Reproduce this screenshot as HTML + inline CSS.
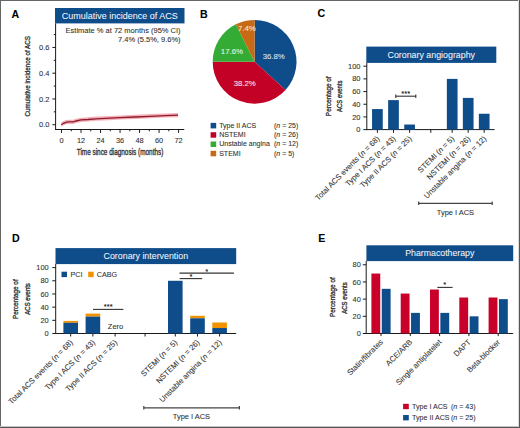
<!DOCTYPE html>
<html><head><meta charset="utf-8"><style>
html,body{margin:0;padding:0;background:#fff;}
svg{display:block;}
text{font-family:"Liberation Sans", sans-serif;}

</style></head><body>
<svg width="520" height="428" viewBox="0 0 520 428">
<rect x="0" y="0" width="520" height="428" fill="#fff"/>
<text x="11.4" y="17.6" font-size="10.6" text-anchor="start" fill="#000" font-weight="bold" stroke="#000" stroke-width="0.08" >A</text>
<rect x="55.00" y="8.00" width="129.50" height="15.40" fill="#0f4c8a"/>
<text x="119.75" y="18.7" font-size="9" text-anchor="middle" fill="#f2f7fc" stroke="#f2f7fc" stroke-width="0.05" >Cumulative incidence of ACS</text>
<text x="180.6" y="32.6" font-size="7.5" text-anchor="end" fill="#303030" stroke="#303030" stroke-width="0.08" >Estimate % at 72 months (95% CI)</text>
<text x="180.6" y="42.1" font-size="7.5" text-anchor="end" fill="#303030" stroke="#303030" stroke-width="0.08" >7.4% (5.5%, 9.6%)</text>
<line x1="55.6" y1="23.4" x2="55.6" y2="130.0" stroke="#1a1a1a" stroke-width="1"/>
<line x1="55.1" y1="129.5" x2="184.3" y2="129.5" stroke="#1a1a1a" stroke-width="1"/>
<line x1="52.4" y1="124.7" x2="55.6" y2="124.7" stroke="#1a1a1a" stroke-width="1"/>
<text x="49.5" y="127.4" font-size="7.5" text-anchor="end" fill="#303030" stroke="#303030" stroke-width="0.08" >0.0</text>
<line x1="53.8" y1="111.825" x2="55.6" y2="111.825" stroke="#1a1a1a" stroke-width="1"/>
<line x1="52.4" y1="98.95" x2="55.6" y2="98.95" stroke="#1a1a1a" stroke-width="1"/>
<text x="49.5" y="101.65" font-size="7.5" text-anchor="end" fill="#303030" stroke="#303030" stroke-width="0.08" >0.2</text>
<line x1="53.8" y1="86.07499999999999" x2="55.6" y2="86.07499999999999" stroke="#1a1a1a" stroke-width="1"/>
<line x1="52.4" y1="73.2" x2="55.6" y2="73.2" stroke="#1a1a1a" stroke-width="1"/>
<text x="49.5" y="75.9" font-size="7.5" text-anchor="end" fill="#303030" stroke="#303030" stroke-width="0.08" >0.4</text>
<line x1="53.8" y1="60.325" x2="55.6" y2="60.325" stroke="#1a1a1a" stroke-width="1"/>
<line x1="52.4" y1="47.44999999999999" x2="55.6" y2="47.44999999999999" stroke="#1a1a1a" stroke-width="1"/>
<text x="49.5" y="50.14999999999999" font-size="7.5" text-anchor="end" fill="#303030" stroke="#303030" stroke-width="0.08" >0.6</text>
<line x1="53.8" y1="34.57499999999999" x2="55.6" y2="34.57499999999999" stroke="#1a1a1a" stroke-width="1"/>
<line x1="61.5" y1="129.5" x2="61.5" y2="132.9" stroke="#1a1a1a" stroke-width="1"/>
<text x="61.5" y="142.5" font-size="7.4" text-anchor="middle" fill="#303030" stroke="#303030" stroke-width="0.08" >0</text>
<line x1="71.25833333333333" y1="129.5" x2="71.25833333333333" y2="131.3" stroke="#1a1a1a" stroke-width="1"/>
<line x1="81.01666666666667" y1="129.5" x2="81.01666666666667" y2="132.9" stroke="#1a1a1a" stroke-width="1"/>
<text x="81.01666666666667" y="142.5" font-size="7.4" text-anchor="middle" fill="#303030" stroke="#303030" stroke-width="0.08" >12</text>
<line x1="90.775" y1="129.5" x2="90.775" y2="131.3" stroke="#1a1a1a" stroke-width="1"/>
<line x1="100.53333333333333" y1="129.5" x2="100.53333333333333" y2="132.9" stroke="#1a1a1a" stroke-width="1"/>
<text x="100.53333333333333" y="142.5" font-size="7.4" text-anchor="middle" fill="#303030" stroke="#303030" stroke-width="0.08" >24</text>
<line x1="110.29166666666666" y1="129.5" x2="110.29166666666666" y2="131.3" stroke="#1a1a1a" stroke-width="1"/>
<line x1="120.05" y1="129.5" x2="120.05" y2="132.9" stroke="#1a1a1a" stroke-width="1"/>
<text x="120.05" y="142.5" font-size="7.4" text-anchor="middle" fill="#303030" stroke="#303030" stroke-width="0.08" >36</text>
<line x1="129.80833333333334" y1="129.5" x2="129.80833333333334" y2="131.3" stroke="#1a1a1a" stroke-width="1"/>
<line x1="139.56666666666666" y1="129.5" x2="139.56666666666666" y2="132.9" stroke="#1a1a1a" stroke-width="1"/>
<text x="139.56666666666666" y="142.5" font-size="7.4" text-anchor="middle" fill="#303030" stroke="#303030" stroke-width="0.08" >48</text>
<line x1="149.325" y1="129.5" x2="149.325" y2="131.3" stroke="#1a1a1a" stroke-width="1"/>
<line x1="159.08333333333331" y1="129.5" x2="159.08333333333331" y2="132.9" stroke="#1a1a1a" stroke-width="1"/>
<text x="159.08333333333331" y="142.5" font-size="7.4" text-anchor="middle" fill="#303030" stroke="#303030" stroke-width="0.08" >60</text>
<line x1="168.84166666666667" y1="129.5" x2="168.84166666666667" y2="131.3" stroke="#1a1a1a" stroke-width="1"/>
<line x1="178.6" y1="129.5" x2="178.6" y2="132.9" stroke="#1a1a1a" stroke-width="1"/>
<text x="178.6" y="142.5" font-size="7.4" text-anchor="middle" fill="#303030" stroke="#303030" stroke-width="0.08" >72</text>
<text transform="translate(120,154.9) scale(0.745,1)" x="0" y="0" font-size="8.6" text-anchor="middle" fill="#303030" stroke="#303030" stroke-width="0.32">Time since diagnosis (months)</text>
<text transform="translate(29.8,76.3) rotate(-90) scale(0.8,1)" x="0" y="0" font-size="7.8" text-anchor="middle" fill="#303030" stroke="#303030" stroke-width="0.32">Cumulative incidence of ACS</text>
<polygon points="61.3,122.6 63.5,121.1 66,120.1 68,119.7 73.5,119.7 76,118.8 81,117.7 88,117.3 96,116.6 110,116.0 120,115.39999999999999 135,114.8 150,114.1 165,113.39999999999999 178,113.0 178,117.2 165,117.6 150,118.3 135,119.0 120,119.6 110,120.2 96,120.8 88,121.5 81,121.9 76,123.0 73.5,123.9 68,123.9 66,124.3 63.5,125.3 61.3,126.8" fill="#f3a3ac" opacity="0.85"/>
<polyline points="61.3,124.8 63.5,123.3 66,122.3 68,121.9 73.5,121.9 76,121.0 81,119.9 88,119.5 96,118.8 110,118.2 120,117.6 135,117.0 150,116.3 165,115.6 178,115.2" fill="none" stroke="#8e1a2e" stroke-width="1.3"/>
<text x="199.9" y="17.8" font-size="10.6" text-anchor="start" fill="#000" font-weight="bold" stroke="#000" stroke-width="0.08" >B</text>
<path d="M254.6,61.8 L254.60,19.90 A41.9,41.9 0 0 1 285.50,90.10 Z" fill="#0f4c8a"/>
<path d="M254.6,61.8 L285.50,90.10 A41.9,41.9 0 0 1 212.70,61.80 Z" fill="#c30026"/>
<path d="M254.6,61.8 L212.70,61.80 A41.9,41.9 0 0 1 235.81,24.35 Z" fill="#34ab34"/>
<path d="M254.6,61.8 L235.81,24.35 A41.9,41.9 0 0 1 254.60,19.90 Z" fill="#c76a14"/>
<text x="273.7" y="59.0" font-size="7.8" text-anchor="middle" fill="#dbe7f5" stroke="#dbe7f5" stroke-width="0.08" >36.8%</text>
<text x="244.7" y="85.8" font-size="7.8" text-anchor="middle" fill="#fbe3e6" stroke="#fbe3e6" stroke-width="0.08" >38.2%</text>
<text x="231.9" y="53.6" font-size="7.8" text-anchor="middle" fill="#e6f5e4" stroke="#e6f5e4" stroke-width="0.08" >17.6%</text>
<text x="246.9" y="30.8" font-size="7.8" text-anchor="middle" fill="#fbe8cf" stroke="#fbe8cf" stroke-width="0.08" >7.4%</text>
<rect x="210.60" y="122.90" width="5.60" height="5.50" fill="#0f4c8a"/>
<text x="219.2" y="127.7" font-size="7.0" text-anchor="start" fill="#303030" stroke="#303030" stroke-width="0.08" >Type II ACS</text>
<text x="274.0" y="127.7" font-size="7.0" text-anchor="start" fill="#303030" stroke="#303030" stroke-width="0.08" >(<tspan font-style="italic">n</tspan> = 25)</text>
<rect x="210.60" y="132.20" width="5.60" height="5.50" fill="#c30026"/>
<text x="219.2" y="137.00000000000003" font-size="7.0" text-anchor="start" fill="#303030" stroke="#303030" stroke-width="0.08" >NSTEMI</text>
<text x="274.0" y="137.00000000000003" font-size="7.0" text-anchor="start" fill="#303030" stroke="#303030" stroke-width="0.08" >(<tspan font-style="italic">n</tspan> = 26)</text>
<rect x="210.60" y="141.50" width="5.60" height="5.50" fill="#34ab34"/>
<text x="219.2" y="146.3" font-size="7.0" text-anchor="start" fill="#303030" stroke="#303030" stroke-width="0.08" >Unstable angina</text>
<text x="274.0" y="146.3" font-size="7.0" text-anchor="start" fill="#303030" stroke="#303030" stroke-width="0.08" >(<tspan font-style="italic">n</tspan> = 12)</text>
<rect x="210.60" y="150.80" width="5.60" height="5.50" fill="#c76a14"/>
<text x="219.2" y="155.60000000000002" font-size="7.0" text-anchor="start" fill="#303030" stroke="#303030" stroke-width="0.08" >STEMI</text>
<text x="274.0" y="155.60000000000002" font-size="7.0" text-anchor="start" fill="#303030" stroke="#303030" stroke-width="0.08" >(<tspan font-style="italic">n</tspan> = 5)</text>
<text x="317.5" y="16.6" font-size="10.6" text-anchor="start" fill="#000" font-weight="bold" stroke="#000" stroke-width="0.08" >C</text>
<rect x="366.30" y="46.60" width="130.00" height="16.30" fill="#0f4c8a"/>
<text x="431.3" y="57.8" font-size="8.85" text-anchor="middle" fill="#f2f7fc" stroke="#f2f7fc" stroke-width="0.05" >Coronary angiography</text>
<line x1="366.8" y1="62.9" x2="366.8" y2="130.1" stroke="#1a1a1a" stroke-width="1"/>
<line x1="366.3" y1="129.6" x2="494.6" y2="129.6" stroke="#1a1a1a" stroke-width="1"/>
<line x1="363.4" y1="129.6" x2="366.8" y2="129.6" stroke="#1a1a1a" stroke-width="1"/>
<text x="360.4" y="132.2" font-size="7.4" text-anchor="end" fill="#303030" stroke="#303030" stroke-width="0.08" >0</text>
<line x1="363.4" y1="116.91999999999999" x2="366.8" y2="116.91999999999999" stroke="#1a1a1a" stroke-width="1"/>
<text x="360.4" y="119.51999999999998" font-size="7.4" text-anchor="end" fill="#303030" stroke="#303030" stroke-width="0.08" >20</text>
<line x1="363.4" y1="104.24" x2="366.8" y2="104.24" stroke="#1a1a1a" stroke-width="1"/>
<text x="360.4" y="106.83999999999999" font-size="7.4" text-anchor="end" fill="#303030" stroke="#303030" stroke-width="0.08" >40</text>
<line x1="363.4" y1="91.56" x2="366.8" y2="91.56" stroke="#1a1a1a" stroke-width="1"/>
<text x="360.4" y="94.16" font-size="7.4" text-anchor="end" fill="#303030" stroke="#303030" stroke-width="0.08" >60</text>
<line x1="363.4" y1="78.88" x2="366.8" y2="78.88" stroke="#1a1a1a" stroke-width="1"/>
<text x="360.4" y="81.47999999999999" font-size="7.4" text-anchor="end" fill="#303030" stroke="#303030" stroke-width="0.08" >80</text>
<line x1="363.4" y1="66.19999999999999" x2="366.8" y2="66.19999999999999" stroke="#1a1a1a" stroke-width="1"/>
<text x="360.4" y="68.79999999999998" font-size="7.4" text-anchor="end" fill="#303030" stroke="#303030" stroke-width="0.08" >100</text>
<line x1="377.4" y1="129.6" x2="377.4" y2="132.79999999999998" stroke="#1a1a1a" stroke-width="1"/>
<rect x="372.05" y="109.06" width="10.70" height="20.54" fill="#0f4c8a"/>
<line x1="393.5" y1="129.6" x2="393.5" y2="132.79999999999998" stroke="#1a1a1a" stroke-width="1"/>
<rect x="388.15" y="100.12" width="10.70" height="29.48" fill="#0f4c8a"/>
<line x1="409.6" y1="129.6" x2="409.6" y2="132.79999999999998" stroke="#1a1a1a" stroke-width="1"/>
<rect x="404.25" y="124.53" width="10.70" height="5.07" fill="#0f4c8a"/>
<line x1="430.8" y1="129.6" x2="430.8" y2="132.79999999999998" stroke="#1a1a1a" stroke-width="1"/>
<line x1="452.2" y1="129.6" x2="452.2" y2="132.79999999999998" stroke="#1a1a1a" stroke-width="1"/>
<rect x="446.85" y="78.88" width="10.70" height="50.72" fill="#0f4c8a"/>
<line x1="468.2" y1="129.6" x2="468.2" y2="132.79999999999998" stroke="#1a1a1a" stroke-width="1"/>
<rect x="462.85" y="97.90" width="10.70" height="31.70" fill="#0f4c8a"/>
<line x1="484.2" y1="129.6" x2="484.2" y2="132.79999999999998" stroke="#1a1a1a" stroke-width="1"/>
<rect x="478.85" y="113.75" width="10.70" height="15.85" fill="#0f4c8a"/>
<line x1="395.8" y1="96.2" x2="415.8" y2="96.2" stroke="#333" stroke-width="1.1"/>
<line x1="395.8" y1="94.5" x2="395.8" y2="97.9" stroke="#333" stroke-width="1.1"/>
<line x1="415.8" y1="94.5" x2="415.8" y2="97.9" stroke="#333" stroke-width="1.1"/>
<text x="405.7" y="96.1" font-size="7.5" text-anchor="middle" fill="#111" stroke="#111" stroke-width="0.08" >***</text>
<text transform="translate(380.0,139.2) rotate(-45)" x="0" y="0" font-size="7.7" text-anchor="end" fill="#303030" stroke="#303030" stroke-width="0.08">Total ACS events (<tspan font-style="italic">n</tspan> = 68)</text>
<text transform="translate(396.1,139.2) rotate(-45)" x="0" y="0" font-size="7.7" text-anchor="end" fill="#303030" stroke="#303030" stroke-width="0.08">Type I ACS (<tspan font-style="italic">n</tspan> = 43)</text>
<text transform="translate(412.20000000000005,139.2) rotate(-45)" x="0" y="0" font-size="7.7" text-anchor="end" fill="#303030" stroke="#303030" stroke-width="0.08">Type II ACS (<tspan font-style="italic">n</tspan> = 25)</text>
<text transform="translate(454.8,139.2) rotate(-45)" x="0" y="0" font-size="7.7" text-anchor="end" fill="#303030" stroke="#303030" stroke-width="0.08">STEMI (<tspan font-style="italic">n</tspan> = 5)</text>
<text transform="translate(470.8,139.2) rotate(-45)" x="0" y="0" font-size="7.7" text-anchor="end" fill="#303030" stroke="#303030" stroke-width="0.08">NSTEMI (<tspan font-style="italic">n</tspan> = 26)</text>
<text transform="translate(486.8,139.2) rotate(-45)" x="0" y="0" font-size="7.7" text-anchor="end" fill="#303030" stroke="#303030" stroke-width="0.08">Unstable angina (<tspan font-style="italic">n</tspan> = 12)</text>
<line x1="418.7" y1="203.3" x2="492.2" y2="203.3" stroke="#444" stroke-width="1.2"/>
<line x1="418.7" y1="201.6" x2="418.7" y2="205.0" stroke="#444" stroke-width="1.2"/>
<line x1="492.2" y1="201.6" x2="492.2" y2="205.0" stroke="#444" stroke-width="1.2"/>
<text x="455.4" y="215.4" font-size="7.45" text-anchor="middle" fill="#303030" stroke="#303030" stroke-width="0.08" >Type I ACS</text>
<text transform="translate(330.9,96.25) rotate(-90) scale(0.864,1)" x="0" y="0" font-size="7.4" text-anchor="middle" fill="#303030" stroke="#303030" stroke-width="0.32">Percentage of</text>
<text transform="translate(342.3,96.25) rotate(-90) scale(0.807,1)" x="0" y="0" font-size="7.4" text-anchor="middle" fill="#303030" stroke="#303030" stroke-width="0.32">ACS events</text>
<text x="12.0" y="242.0" font-size="10.6" text-anchor="start" fill="#000" font-weight="bold" stroke="#000" stroke-width="0.08" >D</text>
<rect x="55.50" y="248.10" width="180.70" height="16.00" fill="#0f4c8a"/>
<text x="145.85" y="259.4" font-size="8.85" text-anchor="middle" fill="#f2f7fc" stroke="#f2f7fc" stroke-width="0.05" >Coronary intervention</text>
<line x1="55.7" y1="264.0" x2="55.7" y2="334.0" stroke="#1a1a1a" stroke-width="1"/>
<line x1="55.2" y1="333.5" x2="236.2" y2="333.5" stroke="#1a1a1a" stroke-width="1"/>
<line x1="52.3" y1="333.5" x2="55.7" y2="333.5" stroke="#1a1a1a" stroke-width="1"/>
<text x="48.7" y="336.1" font-size="7.4" text-anchor="end" fill="#303030" stroke="#303030" stroke-width="0.08" >0</text>
<line x1="52.3" y1="320.32" x2="55.7" y2="320.32" stroke="#1a1a1a" stroke-width="1"/>
<text x="48.7" y="322.92" font-size="7.4" text-anchor="end" fill="#303030" stroke="#303030" stroke-width="0.08" >20</text>
<line x1="52.3" y1="307.14" x2="55.7" y2="307.14" stroke="#1a1a1a" stroke-width="1"/>
<text x="48.7" y="309.74" font-size="7.4" text-anchor="end" fill="#303030" stroke="#303030" stroke-width="0.08" >40</text>
<line x1="52.3" y1="293.96" x2="55.7" y2="293.96" stroke="#1a1a1a" stroke-width="1"/>
<text x="48.7" y="296.56" font-size="7.4" text-anchor="end" fill="#303030" stroke="#303030" stroke-width="0.08" >60</text>
<line x1="52.3" y1="280.78" x2="55.7" y2="280.78" stroke="#1a1a1a" stroke-width="1"/>
<text x="48.7" y="283.38" font-size="7.4" text-anchor="end" fill="#303030" stroke="#303030" stroke-width="0.08" >80</text>
<line x1="52.3" y1="267.6" x2="55.7" y2="267.6" stroke="#1a1a1a" stroke-width="1"/>
<text x="48.7" y="270.20000000000005" font-size="7.4" text-anchor="end" fill="#303030" stroke="#303030" stroke-width="0.08" >100</text>
<line x1="70.7" y1="333.5" x2="70.7" y2="336.5" stroke="#1a1a1a" stroke-width="1"/>
<rect x="63.40" y="320.91" width="14.60" height="1.91" fill="#f39200"/>
<rect x="63.40" y="322.82" width="14.60" height="10.68" fill="#0f4c8a"/>
<line x1="92.9" y1="333.5" x2="92.9" y2="336.5" stroke="#1a1a1a" stroke-width="1"/>
<rect x="85.60" y="313.60" width="14.60" height="3.03" fill="#f39200"/>
<rect x="85.60" y="316.63" width="14.60" height="16.87" fill="#0f4c8a"/>
<line x1="115.1" y1="333.5" x2="115.1" y2="336.5" stroke="#1a1a1a" stroke-width="1"/>
<line x1="145.1" y1="333.5" x2="145.1" y2="336.5" stroke="#1a1a1a" stroke-width="1"/>
<line x1="175.3" y1="333.5" x2="175.3" y2="336.5" stroke="#1a1a1a" stroke-width="1"/>
<rect x="168.00" y="280.78" width="14.60" height="0.00" fill="#f39200"/>
<rect x="168.00" y="280.78" width="14.60" height="52.72" fill="#0f4c8a"/>
<line x1="197.5" y1="333.5" x2="197.5" y2="336.5" stroke="#1a1a1a" stroke-width="1"/>
<rect x="190.20" y="315.77" width="14.60" height="2.50" fill="#f39200"/>
<rect x="190.20" y="318.28" width="14.60" height="15.22" fill="#0f4c8a"/>
<line x1="219.6" y1="333.5" x2="219.6" y2="336.5" stroke="#1a1a1a" stroke-width="1"/>
<rect x="212.30" y="322.49" width="14.60" height="5.54" fill="#f39200"/>
<rect x="212.30" y="328.03" width="14.60" height="5.47" fill="#0f4c8a"/>
<text x="107.8" y="328.6" font-size="7.5" text-anchor="start" fill="#303030" stroke="#303030" stroke-width="0.08" >Zero</text>
<line x1="93" y1="309.4" x2="123.4" y2="309.4" stroke="#333" stroke-width="1.1"/>
<text x="108.2" y="309.4" font-size="7.5" text-anchor="middle" fill="#111" stroke="#111" stroke-width="0.08" >***</text>
<line x1="179.5" y1="273.1" x2="233.9" y2="273.1" stroke="#333" stroke-width="1.1"/>
<text x="206.6" y="273.5" font-size="7.5" text-anchor="middle" fill="#111" stroke="#111" stroke-width="0.08" >*</text>
<line x1="179.6" y1="278.6" x2="202.2" y2="278.6" stroke="#333" stroke-width="1.1"/>
<text x="190.9" y="279.4" font-size="7.5" text-anchor="middle" fill="#111" stroke="#111" stroke-width="0.08" >*</text>
<rect x="61.50" y="271.70" width="5.50" height="5.40" fill="#0f4c8a"/>
<text x="70.4" y="276.9" font-size="7.2" text-anchor="start" fill="#303030" stroke="#303030" stroke-width="0.08" >PCI</text>
<rect x="88.20" y="271.70" width="5.50" height="5.40" fill="#f39200"/>
<text x="96.7" y="276.9" font-size="7.2" text-anchor="start" fill="#303030" stroke="#303030" stroke-width="0.08" >CABG</text>
<text transform="translate(73.3,343.0) rotate(-45)" x="0" y="0" font-size="7.7" text-anchor="end" fill="#303030" stroke="#303030" stroke-width="0.08">Total ACS events (<tspan font-style="italic">n</tspan> = 68)</text>
<text transform="translate(95.5,343.0) rotate(-45)" x="0" y="0" font-size="7.7" text-anchor="end" fill="#303030" stroke="#303030" stroke-width="0.08">Type I ACS (<tspan font-style="italic">n</tspan> = 43)</text>
<text transform="translate(117.69999999999999,343.0) rotate(-45)" x="0" y="0" font-size="7.7" text-anchor="end" fill="#303030" stroke="#303030" stroke-width="0.08">Type II ACS (<tspan font-style="italic">n</tspan> = 25)</text>
<text transform="translate(177.9,343.0) rotate(-45)" x="0" y="0" font-size="7.7" text-anchor="end" fill="#303030" stroke="#303030" stroke-width="0.08">STEMI (<tspan font-style="italic">n</tspan> = 5)</text>
<text transform="translate(200.1,343.0) rotate(-45)" x="0" y="0" font-size="7.7" text-anchor="end" fill="#303030" stroke="#303030" stroke-width="0.08">NSTEMI (<tspan font-style="italic">n</tspan> = 26)</text>
<text transform="translate(222.2,343.0) rotate(-45)" x="0" y="0" font-size="7.7" text-anchor="end" fill="#303030" stroke="#303030" stroke-width="0.08">Unstable angina (<tspan font-style="italic">n</tspan> = 12)</text>
<line x1="143.8" y1="407.8" x2="239.4" y2="407.8" stroke="#444" stroke-width="1.2"/>
<line x1="143.8" y1="406.1" x2="143.8" y2="409.5" stroke="#444" stroke-width="1.2"/>
<line x1="239.4" y1="406.1" x2="239.4" y2="409.5" stroke="#444" stroke-width="1.2"/>
<text x="191.4" y="419.4" font-size="7.45" text-anchor="middle" fill="#303030" stroke="#303030" stroke-width="0.08" >Type I ACS</text>
<text transform="translate(18.4,299.2) rotate(-90) scale(0.864,1)" x="0" y="0" font-size="7.4" text-anchor="middle" fill="#303030" stroke="#303030" stroke-width="0.32">Percentage of</text>
<text transform="translate(30.3,298.9) rotate(-90) scale(0.807,1)" x="0" y="0" font-size="7.4" text-anchor="middle" fill="#303030" stroke="#303030" stroke-width="0.32">ACS events</text>
<text x="318.2" y="242.0" font-size="10.6" text-anchor="start" fill="#000" font-weight="bold" stroke="#000" stroke-width="0.08" >E</text>
<rect x="366.40" y="245.30" width="146.80" height="15.80" fill="#0f4c8a"/>
<text x="439.79999999999995" y="255.9" font-size="8.75" text-anchor="middle" fill="#f2f7fc" stroke="#f2f7fc" stroke-width="0.05" >Pharmacotherapy</text>
<line x1="366.2" y1="261.0" x2="366.2" y2="334.0" stroke="#1a1a1a" stroke-width="1"/>
<line x1="365.7" y1="333.5" x2="513.2" y2="333.5" stroke="#1a1a1a" stroke-width="1"/>
<line x1="362.8" y1="333.5" x2="366.2" y2="333.5" stroke="#1a1a1a" stroke-width="1"/>
<text x="360.8" y="336.1" font-size="7.4" text-anchor="end" fill="#303030" stroke="#303030" stroke-width="0.08" >0</text>
<line x1="362.8" y1="316.32" x2="366.2" y2="316.32" stroke="#1a1a1a" stroke-width="1"/>
<text x="360.8" y="318.92" font-size="7.4" text-anchor="end" fill="#303030" stroke="#303030" stroke-width="0.08" >20</text>
<line x1="362.8" y1="299.14" x2="366.2" y2="299.14" stroke="#1a1a1a" stroke-width="1"/>
<text x="360.8" y="301.74" font-size="7.4" text-anchor="end" fill="#303030" stroke="#303030" stroke-width="0.08" >40</text>
<line x1="362.8" y1="281.96" x2="366.2" y2="281.96" stroke="#1a1a1a" stroke-width="1"/>
<text x="360.8" y="284.56" font-size="7.4" text-anchor="end" fill="#303030" stroke="#303030" stroke-width="0.08" >60</text>
<line x1="362.8" y1="264.78" x2="366.2" y2="264.78" stroke="#1a1a1a" stroke-width="1"/>
<text x="360.8" y="267.38" font-size="7.4" text-anchor="end" fill="#303030" stroke="#303030" stroke-width="0.08" >80</text>
<line x1="381.0" y1="333.5" x2="381.0" y2="336.1" stroke="#1a1a1a" stroke-width="1"/>
<rect x="371.40" y="273.54" width="8.85" height="59.96" fill="#c8002a"/>
<rect x="381.75" y="288.83" width="8.85" height="44.67" fill="#0f4c8a"/>
<line x1="410.3" y1="333.5" x2="410.3" y2="336.1" stroke="#1a1a1a" stroke-width="1"/>
<rect x="400.70" y="293.56" width="8.85" height="39.94" fill="#c8002a"/>
<rect x="411.05" y="312.88" width="8.85" height="20.62" fill="#0f4c8a"/>
<line x1="439.6" y1="333.5" x2="439.6" y2="336.1" stroke="#1a1a1a" stroke-width="1"/>
<rect x="430.00" y="289.52" width="8.85" height="43.98" fill="#c8002a"/>
<rect x="440.35" y="312.88" width="8.85" height="20.62" fill="#0f4c8a"/>
<line x1="468.9" y1="333.5" x2="468.9" y2="336.1" stroke="#1a1a1a" stroke-width="1"/>
<rect x="459.30" y="297.51" width="8.85" height="35.99" fill="#c8002a"/>
<rect x="469.65" y="316.32" width="8.85" height="17.18" fill="#0f4c8a"/>
<line x1="498.2" y1="333.5" x2="498.2" y2="336.1" stroke="#1a1a1a" stroke-width="1"/>
<rect x="488.60" y="297.51" width="8.85" height="35.99" fill="#c8002a"/>
<rect x="498.95" y="299.14" width="8.85" height="34.36" fill="#0f4c8a"/>
<line x1="437.3" y1="287.4" x2="452.6" y2="287.4" stroke="#333" stroke-width="1.1"/>
<text x="444.8" y="287.1" font-size="7.5" text-anchor="middle" fill="#111" stroke="#111" stroke-width="0.08" >*</text>
<text transform="translate(383.4,342.6) rotate(-45)" x="0" y="0" font-size="7.7" text-anchor="end" fill="#303030" stroke="#303030" stroke-width="0.08">Statin/fibrates</text>
<text transform="translate(412.7,342.6) rotate(-45)" x="0" y="0" font-size="7.7" text-anchor="end" fill="#303030" stroke="#303030" stroke-width="0.08">ACE/ARB</text>
<text transform="translate(442.0,342.6) rotate(-45)" x="0" y="0" font-size="7.7" text-anchor="end" fill="#303030" stroke="#303030" stroke-width="0.08">Single antiplatelet</text>
<text transform="translate(471.29999999999995,342.6) rotate(-45)" x="0" y="0" font-size="7.7" text-anchor="end" fill="#303030" stroke="#303030" stroke-width="0.08">DAPT</text>
<text transform="translate(500.59999999999997,342.6) rotate(-45)" x="0" y="0" font-size="7.7" text-anchor="end" fill="#303030" stroke="#303030" stroke-width="0.08">Beta-blocker</text>
<rect x="403.10" y="403.80" width="5.70" height="5.40" fill="#c8002a"/>
<rect x="403.10" y="415.00" width="5.70" height="5.40" fill="#0f4c8a"/>
<text x="412.1" y="409.0" font-size="7.1" text-anchor="start" fill="#303030" stroke="#303030" stroke-width="0.08" >Type I ACS</text>
<text x="475.6" y="409.0" font-size="7.1" text-anchor="end" fill="#303030" stroke="#303030" stroke-width="0.08" >(<tspan font-style="italic">n</tspan> = 43)</text>
<text x="412.1" y="420.3" font-size="7.1" text-anchor="start" fill="#303030" stroke="#303030" stroke-width="0.08" >Type II ACS</text>
<text x="475.6" y="420.3" font-size="7.1" text-anchor="end" fill="#303030" stroke="#303030" stroke-width="0.08" >(<tspan font-style="italic">n</tspan> = 25)</text>
<text transform="translate(334.9,297.15) rotate(-90) scale(0.864,1)" x="0" y="0" font-size="7.4" text-anchor="middle" fill="#303030" stroke="#303030" stroke-width="0.32">Percentage of</text>
<text transform="translate(346.5,298.0) rotate(-90) scale(0.807,1)" x="0" y="0" font-size="7.4" text-anchor="middle" fill="#303030" stroke="#303030" stroke-width="0.32">ACS events</text>
<rect x="0" y="0" width="520" height="1" fill="#676767"/>
<rect x="0" y="0" width="1" height="428" fill="#676767"/>
<rect x="519" y="0" width="1" height="428" fill="#555"/>
<rect x="518" y="0" width="1" height="428" fill="#dcdcdc"/>
<rect x="0" y="427" width="520" height="1" fill="#555"/>
<rect x="0" y="426" width="518" height="1" fill="#c4c4c4"/>
</svg>
</body></html>
